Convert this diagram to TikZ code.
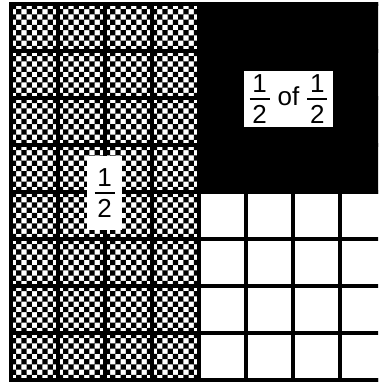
\documentclass[tikz,border=0pt]{standalone}
\usepackage{fontspec}
\setmainfont{Liberation Sans}
\usepackage{tikz}
\usetikzlibrary{positioning}

% stacked fraction in text digits
\newcommand{\fracbox}[2]{$\vcenter{\halign{\hfil##\hfil\cr
  \hbox to 20pt{\hfil#1\hfil}\cr
  \noalign{\kern5pt\hrule height 2.5pt\kern5pt}
  #2\cr}}$}

\tikzset{
  gridline/.style={line width=3.5pt, black, line cap=rect},
  labelbox/.style={fill=white, inner sep=0pt, font=\fontsize{26}{30}\selectfont}
}

\begin{document}
\begin{tikzpicture}[x=1pt, y=-1pt]
  \useasboundingbox (0,0) rectangle (378,383);
  \clip (0,0) rectangle (378,383);

  % checkered half
  \fill[white] (11,4) rectangle (199,380);
  \begin{scope}
    \clip (11,4) rectangle (199,380);
    \fill[black] \foreach \r in {0,...,71} {
      \foreach \c in {0,2,...,34} {
        ({11+(\c+mod(\r,2))*47/9}, {4+\r*47/9}) rectangle ++(47/9,47/9)
      }
    };
  \end{scope}

  % black quarter and white quarter
  \fill[black] (199,4) rectangle (390,194);
  \fill[white] (199,194) rectangle (390,380);

  % grid
  \foreach \k in {0,...,8} {
    \draw[gridline] ({11+47*\k},4) -- ({11+47*\k},380);
    \draw[gridline] (11,{4+47*\k}) -- (390,{4+47*\k});
  }
  \draw[line width=4.5pt] (11,380) -- (11,4) -- (390,4);
  \draw[line width=4.5pt] (11,380) -- (390,380);

  % labels
  \node[labelbox, minimum width=35pt, minimum height=74pt] (half) at (104.5,193) {\fracbox{1}{2}};
  \node[labelbox, minimum width=89pt, minimum height=56pt] (quarter) at (288.5,99)
    {\fracbox{1}{2}\kern8pt of\kern8pt\fracbox{1}{2}};
\end{tikzpicture}
\end{document}
